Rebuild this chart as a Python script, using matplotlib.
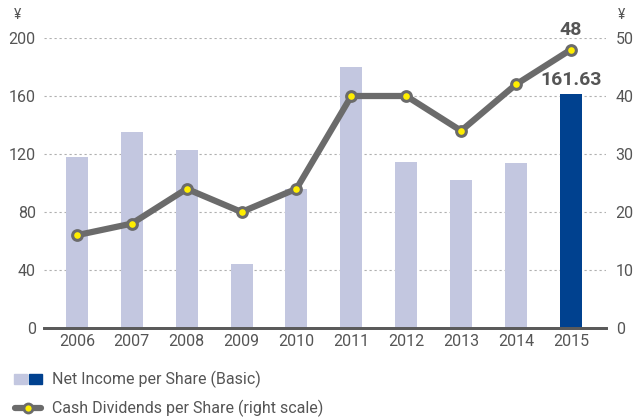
import numpy as np
import matplotlib.pyplot as plt
from matplotlib.patches import Rectangle
from matplotlib.lines import Line2D

# data
years = ['2006', '2007', '2008', '2009', '2010', '2011', '2012', '2013', '2014', '2015']
net_income = [118, 135, 123, 44, 96, 180, 114.5, 102, 113.8, 161.63]
dividends = [16, 18, 24, 20, 24, 40, 40, 34, 42, 48]

plt.rcParams['font.family'] = ['Roboto', 'DejaVu Sans']
txt = '#555555'
light = '#c3c7e0'
dark = '#00418f'
grey = '#6b6b6b'

fig = plt.figure(figsize=(6.33, 4.20), dpi=100)
ax = fig.add_axes([44 / 633, 92 / 420, 562 / 633, 290 / 420])
ax2 = ax.twinx()

x = np.arange(len(years))
colors = [light] * (len(years) - 1) + [dark]
ax.bar(x, net_income, width=0.4, color=colors, zorder=2)

ax.set_ylim(0, 200)
ax.set_xlim(-0.6, 9.64)
ax.set_yticks([0, 40, 80, 120, 160, 200])
ax.set_xticks(x)
ax.set_xticklabels(years)
ax.yaxis.grid(True, linestyle=(0, (2, 2.5)), color='#b0b0b0', linewidth=0.8, zorder=0)
ax.set_axisbelow(True)

ax2.set_ylim(0, 50)
ax2.set_yticks([0, 10, 20, 30, 40, 50])
ax2.plot(x, dividends, color=grey, linewidth=4.5, marker='o', markersize=7,
         markerfacecolor='#ffee00', markeredgecolor=grey, markeredgewidth=2.2,
         clip_on=False, zorder=3)

for a in (ax, ax2):
    for s in ('top', 'left', 'right'):
        a.spines[s].set_visible(False)
    a.spines['bottom'].set_color('#5a5a5a')
    a.spines['bottom'].set_linewidth(2)
    a.tick_params(length=0, labelsize=11.5, colors=txt)
ax.tick_params(axis='y', pad=6)
ax2.tick_params(axis='y', pad=7)
ax.tick_params(axis='x', pad=4)

# value labels for the last year
ax.text(x[-1], net_income[-1] + 3, '161.63', ha='center', va='bottom',
        fontsize=14, fontweight='bold', color=txt)
ax2.text(x[-1], dividends[-1] + 1.8, '48', ha='center', va='bottom',
         fontsize=14, fontweight='bold', color=txt)

fig.text(17 / 633, 1 - 15 / 420, '¥', ha='center', va='center', fontsize=10, color=txt)
fig.text(621 / 633, 1 - 15 / 420, '¥', ha='center', va='center', fontsize=10, color=txt)

# legend
fig.patches.append(Rectangle((14 / 633, 1 - 384 / 420), 13 / 633, 10 / 420,
                             transform=fig.transFigure, color=light))
fig.patches.append(Rectangle((29 / 633, 1 - 384 / 420), 13 / 633, 10 / 420,
                             transform=fig.transFigure, color=dark))
fig.text(52 / 633, 1 - 379 / 420, 'Net Income per Share (Basic)', va='center',
         fontsize=11.5, color=txt)
fig.lines.append(Line2D([15 / 633, 41 / 633], [1 - 408 / 420] * 2, transform=fig.transFigure,
                        color=grey, linewidth=4.5, solid_capstyle='round'))
fig.lines.append(Line2D([28 / 633], [1 - 408 / 420], transform=fig.transFigure,
                        marker='o', markersize=6.5, markerfacecolor='#ffee00',
                        markeredgecolor=grey, markeredgewidth=2))
fig.text(52 / 633, 1 - 408 / 420, 'Cash Dividends per Share (right scale)', va='center',
         fontsize=11.5, color=txt)

fig.savefig('out.png', dpi=100)
